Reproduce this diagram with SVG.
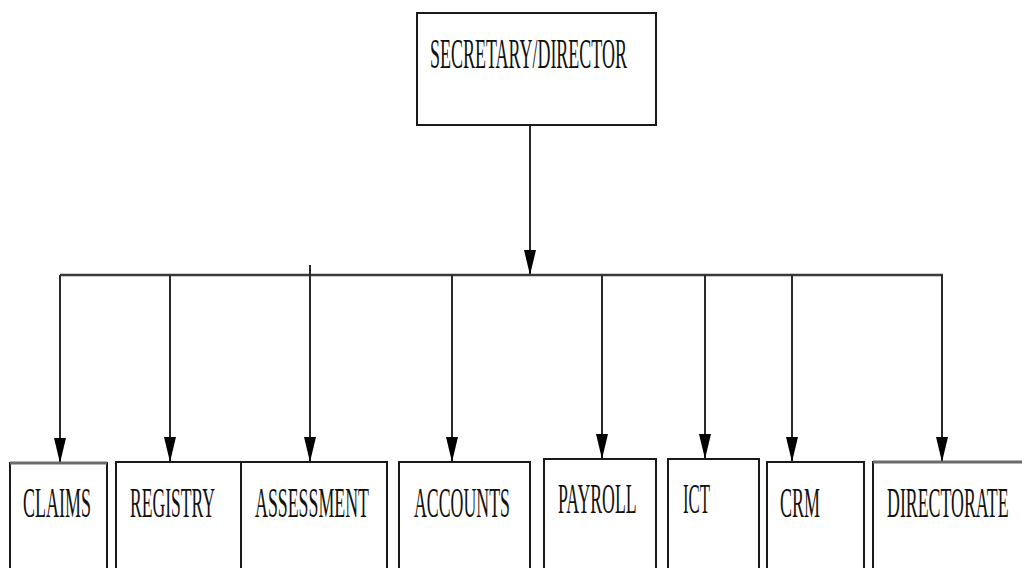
<svg xmlns="http://www.w3.org/2000/svg" width="1022" height="568" viewBox="0 0 1022 568">
  <style>
    .box { fill: #ffffff; stroke: #1a1a1a; stroke-width: 2; }
    .edge-soft { stroke: #6a6a6a; stroke-width: 3; fill: none; }
    .label { font-family: "Liberation Serif", "Times New Roman", serif; font-size: 42px; fill: #111111; }
    .wire { stroke: #2a2a2a; stroke-width: 2; fill: none; }
    .bus { stroke: #3a3a3a; stroke-width: 2.5; fill: none; }
  </style>
  <defs>
    <marker id="arrow" viewBox="0 0 25 12" refX="25" refY="6" markerWidth="25" markerHeight="12" markerUnits="userSpaceOnUse" orient="auto">
      <path d="M0,0 L25,6 L0,12 z" fill="#000000"/>
    </marker>
  </defs>
  <rect width="1022" height="568" fill="#ffffff"/>

  <!-- connectors -->
  <g id="connectors">
    <line class="wire" x1="530" y1="125" x2="530" y2="275" marker-end="url(#arrow)"/>
    <line class="bus" x1="60" y1="275" x2="943" y2="275"/>
    <line class="wire" x1="60" y1="275" x2="60" y2="463" marker-end="url(#arrow)"/>
    <line class="wire" x1="170" y1="275" x2="170" y2="462" marker-end="url(#arrow)"/>
    <line class="wire" x1="310" y1="265" x2="310" y2="462" marker-end="url(#arrow)"/>
    <line class="wire" x1="452" y1="275" x2="452" y2="462" marker-end="url(#arrow)"/>
    <line class="wire" x1="602" y1="275" x2="602" y2="459" marker-end="url(#arrow)"/>
    <line class="wire" x1="705" y1="275" x2="705" y2="459" marker-end="url(#arrow)"/>
    <line class="wire" x1="792" y1="275" x2="792" y2="462" marker-end="url(#arrow)"/>
    <line class="wire" x1="942" y1="275" x2="942" y2="462" marker-end="url(#arrow)"/>
  </g>

  <!-- top node -->
  <g id="secretary-director">
    <rect class="box" x="417" y="13" width="239" height="112"/>
    <text class="label" transform="translate(430 68) scale(0.428 1)">SECRETARY/DIRECTOR</text>
  </g>

  <!-- departments -->
  <g id="claims">
    <rect class="box" x="10" y="463" width="97" height="120"/>
    <line class="edge-soft" x1="10" y1="463" x2="107" y2="463"/>
    <text class="label" transform="translate(23 517) scale(0.428 1)">CLAIMS</text>
  </g>
  <g id="registry">
    <rect class="box" x="116" y="462" width="125" height="120"/>
    <text class="label" transform="translate(130 517) scale(0.419 1)">REGISTRY</text>
  </g>
  <g id="assessment">
    <rect class="box" x="241" y="462" width="146" height="120"/>
    <text class="label" transform="translate(255 517) scale(0.425 1)">ASSESSMENT</text>
  </g>
  <g id="accounts">
    <rect class="box" x="399" y="462" width="131" height="120"/>
    <text class="label" transform="translate(414 517) scale(0.424 1)">ACCOUNTS</text>
  </g>
  <g id="payroll">
    <rect class="box" x="544" y="459" width="112" height="120"/>
    <text class="label" transform="translate(558 513) scale(0.423 1)">PAYROLL</text>
  </g>
  <g id="ict">
    <rect class="box" x="668" y="459" width="91" height="120"/>
    <text class="label" transform="translate(683 513) scale(0.40 1)">ICT</text>
  </g>
  <g id="crm">
    <rect class="box" x="767" y="462" width="97" height="120"/>
    <text class="label" transform="translate(780 517) scale(0.428 1)">CRM</text>
  </g>
  <g id="directorate">
    <rect class="box" x="873" y="462" width="160" height="120"/>
    <line class="edge-soft" x1="873" y1="462" x2="1022" y2="462"/>
    <text class="label" transform="translate(887 517) scale(0.425 1)">DIRECTORATE</text>
  </g>
</svg>
